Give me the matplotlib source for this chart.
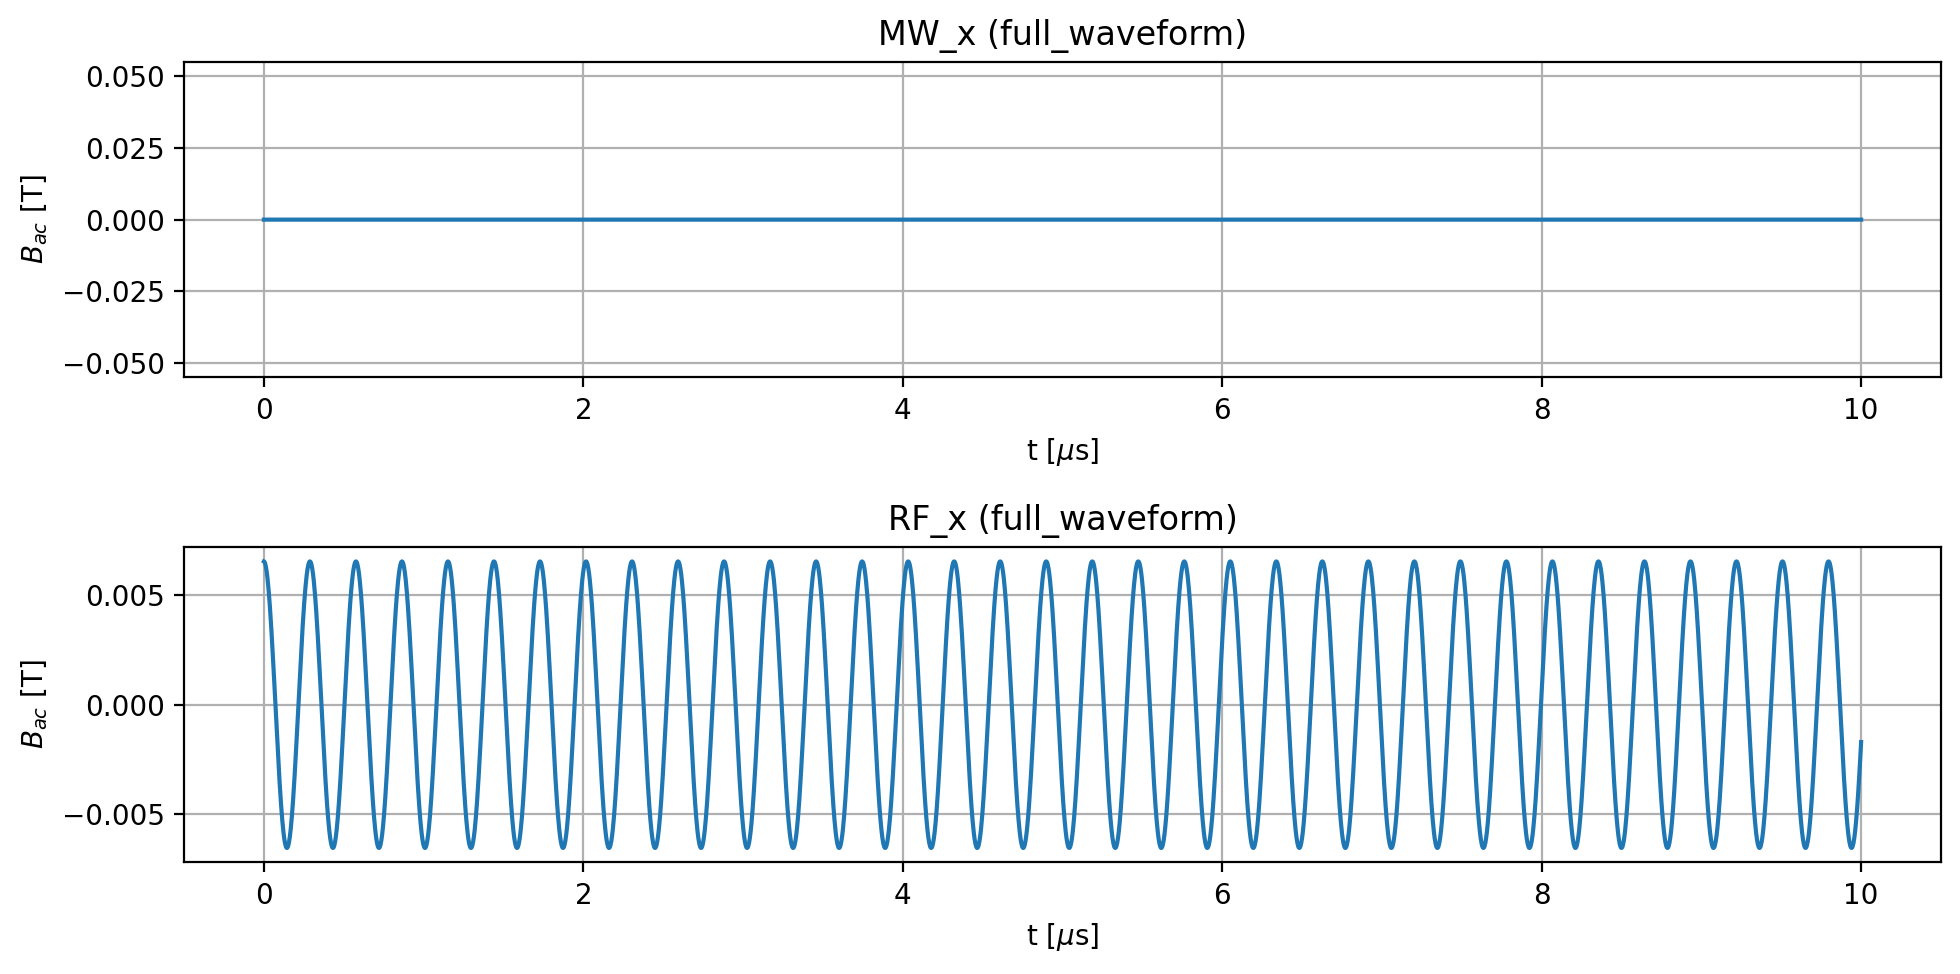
import numpy as np
import matplotlib.pyplot as plt

# waveform parameters
t_end = 10.0          # us
mw_amp = 0.0          # T, MW_x is flat
rf_amp = 0.00655      # T
rf_freq = 3.4708      # MHz (period ~0.288 us)
titles = ['MW_x (full_waveform)', 'RF_x (full_waveform)']

t = np.linspace(0, t_end, 4001)
mw = mw_amp * np.cos(2 * np.pi * rf_freq * t)
rf = rf_amp * np.cos(2 * np.pi * rf_freq * t)

fig, axes = plt.subplots(2, 1, figsize=(9.8, 4.87), dpi=200)
for ax, y, title in zip(axes, [mw, rf], titles):
    ax.plot(t, y)
    ax.set_title(title)
    ax.set_xlabel(r't [$\mu$s]')
    ax.set_ylabel(r'$B_{ac}$ [T]')
    ax.grid(True)

fig.subplots_adjust(left=0.0939, right=0.9903, top=0.9363, bottom=0.1147, hspace=0.539)
plt.savefig('out.png', dpi=200)
